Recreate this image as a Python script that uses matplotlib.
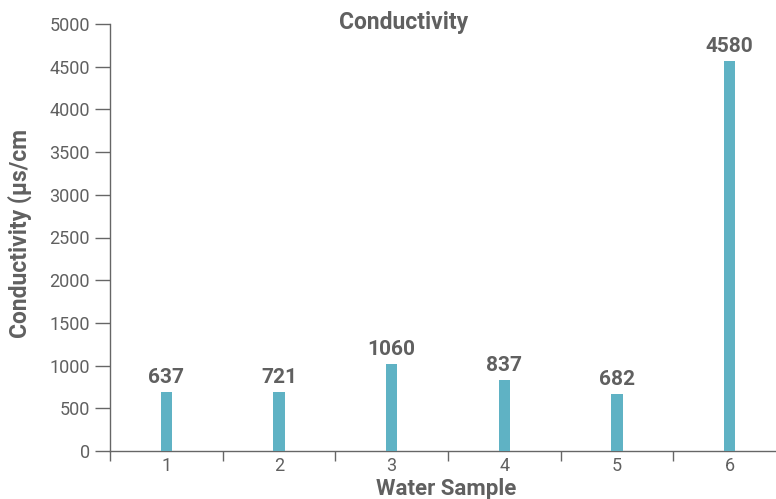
import matplotlib
matplotlib.use("Agg")
import matplotlib.pyplot as plt
import numpy as np

categories = ["1", "2", "3", "4", "5", "6"]
bar_heights = [694, 694, 1022, 828, 664, 4570]
bar_labels = ["637", "721", "1060", "837", "682", "4580"]
y_ticks = [0, 500, 1000, 1500, 2000, 2500, 3000, 3500, 4000, 4500, 5000]

W, H = 776, 499
fig = plt.figure(figsize=(W / 100, H / 100), dpi=100)
ax_left, ax_right = 110 / W, 786 / W
ax_bottom, ax_top = 1 - 451 / H, 1 - 24 / H
ax = fig.add_axes([ax_left, ax_bottom, ax_right - ax_left, ax_top - ax_bottom])

grey = "#666666"
text_grey = "#606060"
bar_color = "#5fb2c4"
tick_font = ["Roboto", "DejaVu Sans"]
bold_font = ["Roboto", "DejaVu Sans"]

x = np.arange(1, len(categories) + 1)
ax.bar(x, bar_heights, width=0.1, color=bar_color, zorder=3)
for xi, h, lab in zip(x, bar_heights, bar_labels):
    ax.annotate(lab, (xi, h), xytext=(0, 3.5), textcoords="offset points",
                ha="center", va="bottom", fontsize=15, fontweight="bold",
                color=text_grey, family=bold_font)

ax.set_xlim(0.5, len(categories) + 0.5)
ax.set_ylim(0, 5000)
ax.set_yticks(y_ticks)
ax.set_yticklabels([str(v) for v in y_ticks], family=tick_font, fontsize=13, color=text_grey)
ax.set_xticks(x)
ax.set_xticklabels(categories, family=tick_font, fontsize=13, color=text_grey)
ax.tick_params(axis="x", which="major", length=0, pad=4.5)
ax.set_xticks(np.arange(0.5, len(categories) + 0.5, 1), minor=True)
ax.tick_params(axis="x", which="minor", length=7.5, width=1, color=grey)
ax.tick_params(axis="y", which="major", length=10.5, width=1, color=grey, pad=4)

for s in ["top", "right"]:
    ax.spines[s].set_visible(False)
for s in ["left", "bottom"]:
    ax.spines[s].set_color(grey)
    ax.spines[s].set_linewidth(1)

fig.text(403.5 / W, 1 - 23 / H, "Conductivity", ha="center", va="center",
         fontsize=16.5, fontweight="bold", color=text_grey, family=bold_font)
fig.text(446 / W, 1 - 495.5 / H, "Water Sample", ha="center", va="baseline",
         fontsize=16, fontweight="bold", color=text_grey, family=bold_font)
fig.text(20 / W, 1 - 234 / H, "Conductivity (μs/cm", ha="center", va="center",
         rotation=90, fontsize=16.5, fontweight="bold", color=text_grey, family=bold_font)

fig.savefig("out.png", dpi=100)
